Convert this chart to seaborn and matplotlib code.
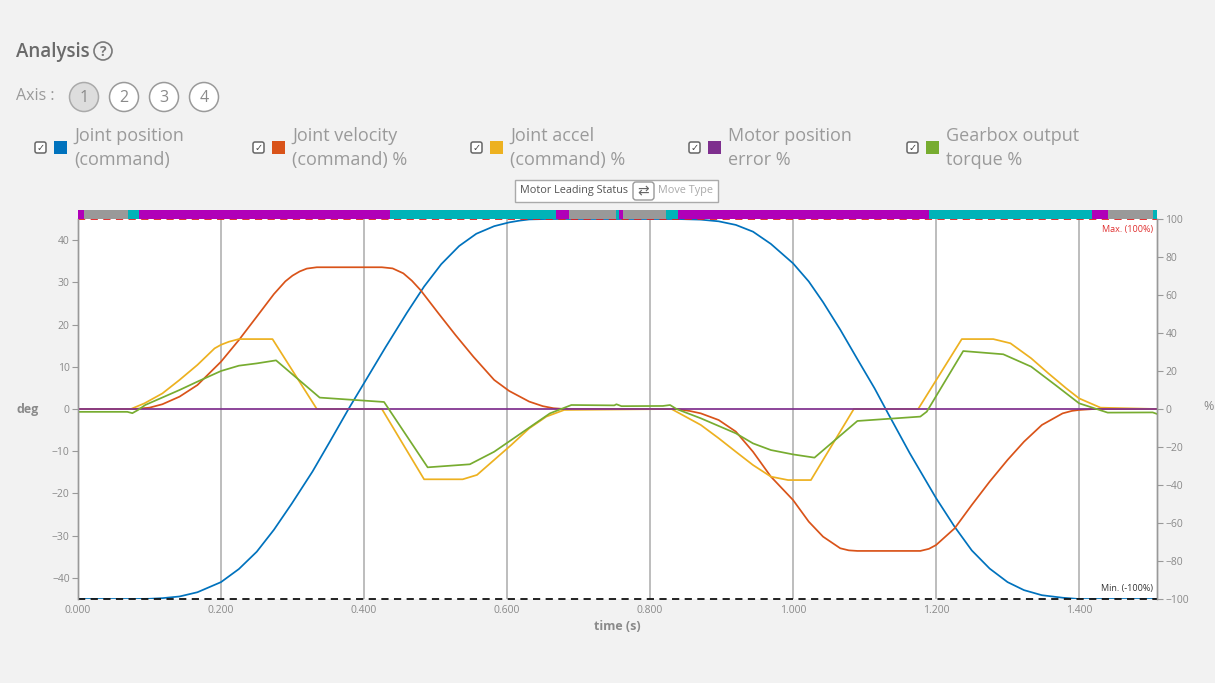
import matplotlib
matplotlib.use("Agg")
import matplotlib.pyplot as plt
import seaborn as sns
import numpy as np
import pandas as pd
from matplotlib.patches import Rectangle, Circle, FancyBboxPatch

# ---------------- data ----------------
pos_t = [0, 0.079, 0.1, 0.118, 0.142, 0.167, 0.2, 0.225, 0.25, 0.274, 0.299, 0.328, 0.352,
         0.379, 0.401, 0.43, 0.46, 0.484, 0.508, 0.533, 0.557, 0.582, 0.603, 0.617, 0.631,
         0.655, 0.837, 0.871, 0.896, 0.92, 0.944, 0.969, 1.0, 1.022, 1.042, 1.066, 1.09,
         1.114, 1.134, 1.163, 1.2, 1.226, 1.25, 1.275, 1.3, 1.323, 1.348, 1.377, 1.4, 1.509]
pos_deg = [-45, -45, -44.95, -44.8, -44.4, -43.4, -41.0, -37.9, -33.8, -28.6, -22.4, -14.8, -7.8,
           0.2, 6.4, 14.6, 22.8, 29.0, 34.3, 38.6, 41.5, 43.3, 44.2, 44.6, 44.9,
           45, 45, 44.85, 44.45, 43.6, 42.0, 39.1, 34.5, 30.2, 25.3, 18.8, 11.8,
           4.9, -1.4, -10.4, -21.1, -27.9, -33.5, -37.8, -41.0, -42.9, -44.1, -44.7, -45, -45]

vel_t = [0, 0.079, 0.1, 0.118, 0.142, 0.167, 0.2, 0.225, 0.25, 0.274, 0.29, 0.3, 0.31, 0.32,
         0.334, 0.425, 0.44, 0.455, 0.467, 0.479, 0.504, 0.528, 0.553, 0.582, 0.603, 0.631,
         0.65, 0.665, 0.68, 0.837, 0.855, 0.871, 0.896, 0.92, 0.944, 0.969, 1.0, 1.022, 1.042,
         1.066, 1.078, 1.09, 1.178, 1.19, 1.2, 1.226, 1.25, 1.275, 1.3, 1.323, 1.348, 1.377,
         1.39, 1.4, 1.421, 1.509]
vel_pct = [0, 0, 0.7, 2.5, 6.5, 12.6, 24.9, 36.3, 48.6, 60.5, 67.2, 70.2, 72.4, 73.9,
           74.6, 74.6, 74.0, 71.4, 67.5, 62.6, 50.4, 38.9, 27.5, 15.3, 9.5, 3.9,
           1.5, 0.4, 0, 0, -1.0, -2.3, -5.8, -11.9, -22.5, -35.6, -47.9, -59.3, -67.2,
           -73.3, -74.4, -74.7, -74.7, -73.6, -71.6, -62.8, -50.5, -38.2, -26.8, -17.2, -8.4, -2.3,
           -1.0, -0.5, 0, 0]

acc_t = [0, 0.074, 0.093, 0.118, 0.142, 0.167, 0.191, 0.2, 0.211, 0.225, 0.272, 0.334, 0.425,
         0.484, 0.538, 0.558, 0.582, 0.606, 0.631, 0.655, 0.68, 0.83, 0.871, 0.896, 0.92,
         0.944, 0.969, 0.993, 1.025, 1.085, 1.175, 1.236, 1.28, 1.304, 1.333, 1.357, 1.382,
         1.4, 1.43, 1.509]
acc_pct = [0, 0, 3, 8.2, 15.3, 23.2, 31.9, 33.8, 35.4, 36.8, 36.8, 0, 0,
           -37, -37, -34.7, -26.8, -18.9, -10.2, -4, -0.5, 0, -8.4, -15.4, -22.5,
           -29.5, -35.6, -37.4, -37.4, 0, 0, 36.8, 36.8, 34.6, 26.7, 18.8, 10.9,
           5.6, 0.7, 0]

err_t = [0, 0.5, 1.0, 1.509]
err_pct = [0, 0, 0, 0]

tq_t = [0, 0.069, 0.076, 0.084, 0.094, 0.142, 0.167, 0.2, 0.225, 0.25, 0.277, 0.338, 0.428,
        0.489, 0.548, 0.582, 0.606, 0.631, 0.66, 0.69, 0.75, 0.753, 0.76, 0.818, 0.828,
        0.837, 0.871, 0.92, 0.944, 0.969, 1.0, 1.03, 1.09, 1.178, 1.187, 1.238, 1.294,
        1.333, 1.367, 1.4, 1.44, 1.503, 1.509]
tq_pct = [-1.5, -1.5, -2.2, -0.5, 2.1, 10, 14.4, 20, 22.8, 24, 25.6, 6, 3.7,
          -30.7, -29.1, -22.5, -16.3, -9.8, -2.3, 2.1, 1.9, 2.5, 1.5, 1.6, 2.1,
          0, -4.9, -12.8, -18.1, -21.6, -23.9, -25.6, -6.3, -4, -1.4, 30.5, 28.8,
          22.3, 12.6, 3, -1.9, -1.8, -2.6]

status_start = [0, 0.009, 0.070, 0.085, 0.436, 0.668, 0.687, 0.752, 0.757, 0.762, 0.822,
                0.839, 1.190, 1.418, 1.441, 1.503]
status_end = [0.009, 0.070, 0.085, 0.436, 0.668, 0.687, 0.752, 0.757, 0.762, 0.822, 0.839,
              1.190, 1.418, 1.441, 1.503, 1.509]
status_kind = ["lead", "idle", "move", "lead", "move", "lead", "idle", "move", "lead", "idle",
               "move", "lead", "move", "lead", "idle", "move"]

legend_labels = ["Joint position\n(command)", "Joint velocity\n(command) %",
                 "Joint accel\n(command) %", "Motor position\nerror %",
                 "Gearbox output\ntorque %"]
x_ticks = [0.0, 0.2, 0.4, 0.6, 0.8, 1.0, 1.2, 1.4]
left_ticks = [-40, -30, -20, -10, 0, 10, 20, 30, 40]
right_ticks = [-100, -80, -60, -40, -20, 0, 20, 40, 60, 80, 100]

# ---------------- style ----------------
colors = ["#0072BD", "#D95319", "#EDB120", "#7E2F8E", "#77AC30"]
status_colors = {"lead": "#b000b8", "idle": "#999999", "move": "#00b3b8"}
BG = "#f2f2f2"
TXT = "#8a8a8a"

sns.set_theme(style="white")
plt.rcParams["font.family"] = ["Open Sans", "DejaVu Sans"]

W, H = 1215, 683
fig = plt.figure(figsize=(W / 100, H / 100), dpi=100, facecolor=BG)

L, R, T, B = 78, 1157, 219, 599
ax = fig.add_axes([L / W, 1 - B / H, (R - L) / W, (B - T) / H])
ax.set_facecolor("white")
ax2 = ax.twinx()
XMAX = 1.509
LW = 1.25

# grid
for xt in x_ticks[1:]:
    ax.axvline(xt, color="#ababab", lw=1.1, zorder=0)

sns.lineplot(x=pos_t, y=pos_deg, ax=ax, color=colors[0], lw=LW, estimator=None, sort=False)
sns.lineplot(x=vel_t, y=vel_pct, ax=ax2, color=colors[1], lw=LW, estimator=None, sort=False)
sns.lineplot(x=acc_t, y=acc_pct, ax=ax2, color=colors[2], lw=LW, estimator=None, sort=False)
sns.lineplot(x=err_t, y=err_pct, ax=ax2, color=colors[3], lw=LW, estimator=None, sort=False)
sns.lineplot(x=tq_t, y=tq_pct, ax=ax2, color=colors[4], lw=LW, estimator=None, sort=False)

ax.set_xlim(0, XMAX)
ax.set_ylim(-45, 45)
ax2.set_ylim(-100, 100)

ax2.axhline(100, color="#e02020", ls=(0, (4, 3)), lw=1.3, clip_on=False)
ax2.axhline(-100, color="#111111", ls=(0, (4, 3)), lw=1.3, clip_on=False)
ax2.text(XMAX - 0.006, 97, "Max. (100%)", color="#e03030", fontsize=6.5,
         ha="right", va="top")
ax2.text(XMAX - 0.006, -97, "Min. (-100%)", color="#333333", fontsize=6.5,
         ha="right", va="bottom")

ax.set_xticks(x_ticks)
ax.set_xticklabels([f"{v:.3f}" for v in x_ticks])
ax.set_yticks(left_ticks)
ax.set_yticklabels([str(v) if v >= 0 else "\u2212" + str(-v) for v in left_ticks])
ax2.set_yticks(right_ticks)
ax2.set_yticklabels([str(v) if v >= 0 else "\u2212" + str(-v) for v in right_ticks])
for a in (ax, ax2):
    a.tick_params(axis="both", labelsize=7.5, labelcolor=TXT, color="#999999",
                  length=4, width=0.8, direction="out", pad=2)
    for s in ("top", "bottom"):
        a.spines[s].set_visible(False)
    for s in ("left", "right"):
        a.spines[s].set_color("#999999")
        a.spines[s].set_linewidth(1.0)
ax.tick_params(axis="x", length=0, pad=4)
ax.set_xlabel("time (s)", fontsize=9, color=TXT, fontweight="bold", labelpad=3)
ax.set_ylabel("")
ax2.set_ylabel("")

# status bar
sax = fig.add_axes([L / W, 1 - T / H, (R - L) / W, 9 / H])
sax.set_xlim(0, XMAX)
sax.set_ylim(0, 1)
sax.broken_barh([(s, e - s) for s, e in zip(status_start, status_end)], (0, 1),
                facecolors=[status_colors[k] for k in status_kind], edgecolor="none")
sax.axis("off")

# overlay for header/legend (pixel coords)
ov = fig.add_axes([0, 0, 1, 1], zorder=-1)
ov.set_xlim(0, W)
ov.set_ylim(H, 0)
ov.axis("off")
ov.patch.set_alpha(0)

ov.text(16, 52, "Analysis", fontsize=13.5, color="#6a6a6a", fontweight="semibold",
        va="center", ha="left")
ov.add_patch(Circle((103, 51), 9, fill=False, edgecolor="#7a7a7a", lw=1.2))
ov.text(103, 51.5, "?", fontsize=10, color="#7a7a7a", ha="center", va="center",
        fontweight="bold")

ov.text(16, 96, "Axis :", fontsize=11.5, color="#9a9a9a", va="center", ha="left")
for i, cx in enumerate([84, 124, 164, 204]):
    ov.add_patch(Circle((cx, 97), 14.5, facecolor="#dddddd" if i == 0 else "white",
                        edgecolor="#9a9a9a" if i else "#aaaaaa", lw=1.1))
    ov.text(cx, 97.5, str(i + 1), fontsize=11.5, color="#8a8a8a", ha="center", va="center")

for i, (lab, col) in enumerate(zip(legend_labels, colors)):
    x0 = 34 + 218 * i
    ov.add_patch(FancyBboxPatch((x0 + 1, 142), 11, 11, boxstyle="round,pad=0,rounding_size=2",
                                facecolor="white", edgecolor="#666666", lw=1.1))
    ov.text(x0 + 6.5, 148.3, "\u2713", fontsize=7, color="#444444", ha="center", va="center",
            family="DejaVu Sans")
    ov.add_patch(Rectangle((x0 + 20, 141), 13, 13, facecolor=col, edgecolor="none"))
    l1, l2 = lab.split("\n")
    ov.text(x0 + 40, 136, l1, fontsize=13, color="#9a9a9a", va="center", ha="left")
    ov.text(x0 + 40, 160, l2, fontsize=13, color="#9a9a9a", va="center", ha="left")

# motor leading status toggle
ov.add_patch(Rectangle((515, 180), 203, 22, facecolor="white", edgecolor="#aaaaaa", lw=1))
ov.text(520, 191, "Motor Leading Status", fontsize=7.8, color="#555555", va="center", ha="left")
ov.add_patch(FancyBboxPatch((633, 182), 21, 18, boxstyle="round,pad=0,rounding_size=3",
                            facecolor="white", edgecolor="#999999", lw=1))
ov.text(643.5, 191, "\u21c4", fontsize=10, color="#666666", ha="center", va="center",
        family="DejaVu Sans")
ov.text(658, 191, "Move Type", fontsize=7.8, color="#aaaaaa", va="center", ha="left")

# axis titles
ov.text(28, 409, "deg", fontsize=9, color=TXT, fontweight="bold", ha="center", va="center")
ov.text(1209, 406, "%", fontsize=9, color=TXT, ha="center", va="center")

fig.savefig("out.png", dpi=100, facecolor=BG)
